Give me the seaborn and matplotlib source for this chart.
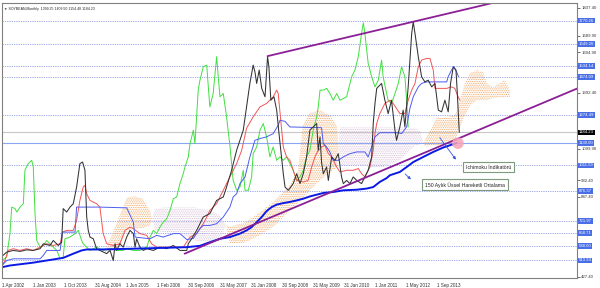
import numpy as np
import pandas as pd
import matplotlib
matplotlib.use("Agg")
import matplotlib.pyplot as plt
import seaborn as sns

# ---------------- data (bar index, price) ----------------
close_bar = [0.5, 2.4, 5.8, 9.3, 12.7, 16.1, 19.6, 21.3, 24.7, 26.4,
             29.0, 30.7, 31.5, 33.3, 35.0, 36.7, 38.4, 40.1, 41.5, 42.7,
             43.6, 44.4, 45.3, 47.0, 48.7, 50.4, 53.9, 55.6, 57.3, 58.2,
             59.0, 60.7, 62.4, 64.2, 65.9, 67.6, 68.5, 69.3, 71.0, 72.7,
             74.5, 77.9, 81.3, 84.8, 88.2, 91.6, 95.1, 95.9, 97.6, 100.2,
             103.6, 107.0, 110.5, 113.9, 115.6, 118.2, 120.8, 122.5, 124.2, 125.9,
             127.6, 129.3, 130.2, 131.1, 132.4, 133.7, 135.4, 136.7, 137.4, 138.4,
             140.0, 141.4, 142.6, 144.8, 145.7, 147.4, 149.9, 151.7, 153.4, 155.1,
             156.8, 158.5, 160.2, 162.0, 162.8, 163.7, 164.5, 165.4, 167.1, 168.0,
             169.7, 171.4, 173.1, 174.8, 175.7, 177.4, 179.1, 180.8, 182.6, 185.1,
             186.8, 188.5, 190.3, 191.1, 192.0, 192.9, 195.4, 197.1, 198.8, 200.5,
             202.3, 203.1, 204.8, 206.5, 207.4, 209.1, 210.9, 211.7, 212.6, 214.3,
             216.0, 217.7, 219.4, 221.2, 222.9, 224.6, 226.3, 228.0, 229.7, 230.9,
             232.3, 233.7, 234.3, 235.0, 235.4]
close_val = [540, 557, 566, 561, 569, 566, 575, 601, 592, 618,
             592, 609, 785, 767, 793, 811, 898, 1021, 1029, 986,
             741, 671, 636, 627, 575, 566, 549, 566, 513, 601,
             566, 601, 583, 636, 671, 654, 583, 627, 583, 566,
             575, 566, 583, 575, 592, 566, 566, 601, 627, 671,
             741, 759, 828, 846, 898, 986, 1091, 1143, 1196, 1318,
             1441, 1537, 1502, 1441, 1511, 1415, 1371, 1581, 1528, 1353,
             1371, 1301, 1178, 968, 898, 881, 916, 968, 916, 968,
             1056, 1196, 1213, 1231, 1091, 1161, 1029, 968, 1003, 933,
             1056, 1038, 1073, 951, 916, 933, 916, 951, 933, 916,
             951, 986, 1056, 1231, 1336, 1415, 1441, 1353, 1283, 1353,
             1196, 1143, 1213, 1301, 1213, 1423, 1703, 1764, 1703, 1581,
             1476, 1449, 1458, 1423, 1441, 1301, 1292, 1353, 1292, 1441,
             1528, 1511, 1406, 1266, 1184.23]

chikou_bar = [0.0, 2.4, 4.1, 5.0, 6.7, 7.6, 9.3, 11.0, 11.8, 13.5,
              15.3, 16.1, 17.0, 17.9, 19.6, 21.3, 23.0, 24.7, 26.4, 28.2,
              29.9, 31.5, 32.4, 35.0, 37.6, 39.3, 41.0, 41.8, 43.6, 45.3,
              48.7, 52.1, 55.6, 59.0, 62.4, 64.2, 67.6, 71.0, 74.5, 76.2,
              77.9, 79.6, 81.3, 83.0, 84.8, 86.5, 88.2, 89.9, 91.6, 93.3,
              94.2, 95.9, 96.8, 98.5, 99.3, 100.2, 101.0, 101.9, 103.6, 105.4,
              106.2, 107.0, 108.7, 110.5, 111.3, 112.2, 113.9, 115.6, 117.3, 119.0,
              120.8, 122.5, 124.2, 125.1, 126.8, 128.5, 129.3, 131.1, 132.8, 134.5,
              136.2, 137.9, 139.6, 141.4, 143.1, 144.8, 146.5, 148.2, 149.9, 151.7,
              153.4, 155.1, 156.8, 158.5, 160.2, 162.0, 162.8, 163.7, 165.4, 167.1,
              168.8, 170.5, 172.3, 174.0, 177.4, 180.0, 181.7, 183.4, 185.1, 186.0,
              186.8, 188.5, 190.3, 192.0, 193.7, 195.4, 196.2, 198.0, 198.8, 200.5,
              202.3, 204.0, 205.7, 207.4, 208.3, 209.1]
chikou_val = [513, 531, 654, 793, 785, 767, 793, 811, 986, 1021,
              1038, 1003, 759, 618, 583, 592, 618, 601, 583, 566,
              522, 531, 627, 636, 654, 671, 618, 601, 583, 566,
              583, 566, 575, 566, 566, 575, 566, 566, 583, 636,
              671, 654, 688, 714, 732, 776, 837, 846, 916, 968,
              1003, 1056, 1126, 1196, 1126, 1266, 1406, 1458, 1528, 1537,
              1423, 1318, 1388, 1581, 1476, 1371, 1388, 1266, 1117, 933,
              881, 898, 986, 881, 881, 951, 1073, 1108, 1196, 1231,
              1161, 1056, 1108, 1038, 1056, 1038, 1056, 1021, 986, 933,
              951, 986, 1056, 1091, 1196, 1266, 1318, 1406, 1406, 1415,
              1388, 1353, 1388, 1353, 1371, 1476, 1511, 1581, 1703, 1759,
              1703, 1546, 1476, 1423, 1458, 1563, 1476, 1388, 1353, 1336,
              1388, 1441, 1528, 1476, 1353, 1213]

tenkan_bar = [0.0, 1.5, 3.2, 5.8, 9.3, 12.7, 16.1, 19.6, 23.0, 26.4,
              29.9, 31.2, 33.3, 36.7, 38.4, 40.1, 41.8, 42.7, 43.6, 45.3,
              48.7, 50.4, 52.1, 53.9, 57.3, 60.7, 63.3, 65.9, 67.6, 71.0,
              74.5, 77.0, 79.6, 84.8, 89.9, 93.3, 96.8, 100.2, 103.6, 105.4,
              107.0, 110.5, 113.9, 117.3, 120.8, 123.4, 125.9, 129.3, 132.8, 136.2,
              139.6, 141.4, 142.2, 143.1, 144.8, 146.5, 148.2, 149.9, 151.7, 155.1,
              157.6, 159.4, 161.1, 162.8, 164.5, 166.2, 168.0, 169.7, 172.3, 174.0,
              177.4, 180.8, 183.4, 185.1, 186.8, 189.4, 191.1, 192.0, 192.9, 194.5,
              197.1, 199.7, 201.4, 204.8, 207.4, 209.1, 210.9, 212.6, 214.3, 216.0,
              218.6, 220.3, 222.0, 222.9, 228.9, 231.4, 233.1, 234.8, 235.7]
tenkan_val = [487, 513, 566, 575, 566, 575, 566, 583, 601, 592,
              601, 662, 671, 671, 723, 828, 898, 907, 863, 828,
              811, 793, 654, 601, 592, 601, 671, 688, 680, 654,
              645, 601, 583, 583, 583, 583, 636, 654, 706, 741,
              776, 811, 881, 951, 1021, 1091, 1206, 1266, 1318, 1336,
              1371, 1406, 1388, 1290, 1108, 1056, 1038, 986, 933, 924,
              933, 1003, 1056, 1091, 1108, 1117, 1073, 1056, 1003, 977,
              986, 986, 995, 968, 951, 1003, 1091, 1178, 1231, 1283,
              1336, 1353, 1336, 1283, 1283, 1353, 1406, 1441, 1528, 1563,
              1572, 1572, 1511, 1415, 1415, 1423, 1415, 1371, 1353]

kijun_bar = [0.0, 2.4, 5.8, 19.6, 21.3, 23.0, 29.9, 31.2, 37.6, 38.4,
             50.4, 64.2, 67.6, 68.5, 76.2, 79.6, 83.0, 88.2, 91.6, 95.1,
             98.5, 101.9, 103.6, 107.0, 110.5, 113.9, 117.3, 119.0, 120.8, 122.5,
             125.1, 127.6, 130.2, 132.8, 136.2, 139.6, 142.2, 143.1, 145.7, 148.2,
             164.5, 165.4, 167.1, 168.8, 170.5, 173.1, 175.7, 179.1, 182.6, 186.8,
             188.5, 190.3, 192.0, 194.5, 204.0, 205.7, 208.3, 210.0, 211.7, 214.3,
             216.0, 218.6, 228.9, 229.7, 231.4, 232.6, 234.0, 235.0]
kijun_val = [487, 513, 522, 522, 540, 566, 566, 662, 662, 793,
             793, 789, 714, 636, 627, 645, 636, 654, 654, 623,
             629, 681, 697, 697, 706, 741, 793, 846, 863, 916,
             951, 1056, 1143, 1152, 1161, 1178, 1222, 1248, 1242, 1213,
             1209, 1126, 1108, 1082, 1038, 1038, 1056, 1073, 1082, 1082,
             1056, 1108, 1161, 1183, 1183, 1178, 1213, 1311, 1371, 1423,
             1441, 1449, 1449, 1476, 1511, 1528, 1502, 1476]

ema_bar = [0.0, 4.1, 16.1, 31.5, 36.7, 41.0, 43.6, 50.4, 67.6, 77.9,
           84.8, 95.1, 101.9, 107.0, 112.2, 117.3, 122.5, 125.9, 128.5, 131.1,
           133.7, 136.2, 138.8, 141.4, 144.8, 148.2, 151.7, 155.1, 158.5, 162.0,
           165.4, 170.5, 175.7, 182.6, 187.7, 191.1, 194.5, 198.0, 199.7, 204.8,
           208.3, 211.7, 216.9, 222.0, 227.1, 230.6, 234.0]
ema_val = [478, 487, 502, 527, 549, 566, 571, 571, 575, 578,
           580, 583, 590, 609, 627, 636, 654, 671, 688, 714,
           741, 772, 793, 806, 814, 820, 828, 837, 849, 858,
           867, 872, 881, 884, 890, 898, 925, 945, 960, 977,
           1003, 1029, 1056, 1082, 1105, 1117, 1129]

cloud_bar = [53.0, 57.1, 60.7, 64.3, 68.5, 72.1, 76.2, 78.7, 83.9, 91.6,
             99.3, 107.0, 112.2, 115.3, 117.3, 125.1, 132.8, 140.5, 148.2, 152.3,
             154.9, 158.5, 163.7, 168.8, 172.4, 174.0, 184.3, 194.5, 204.8, 212.6,
             215.1, 217.7, 223.9, 229.1, 233.1, 235.7, 238.3, 240.9, 244.4, 247.6,
             249.6, 252.7, 256.3, 258.9, 261.5]
span_a = [566, 660, 750, 844, 849, 839, 776, 671, 660, 655,
          618, 603, 618, 700, 690, 713, 765, 828, 907, 986,
          1222, 1285, 1301, 1274, 1216, 1012, 1012, 996, 1038, 1117,
          1120, 1143, 1264, 1264, 1274, 1353, 1442, 1495, 1511, 1500,
          1442, 1421, 1442, 1458, 1406]
span_b = [555, 566, 592, 671, 681, 681, 697, 786, 791, 791,
          791, 776, 750, 700, 600, 608, 645, 697, 776, 813,
          839, 881, 933, 975, 1000, 1211, 1211, 1211, 1211, 1206,
          1190, 1110, 1117, 1128, 1143, 1211, 1274, 1327, 1353, 1353,
          1353, 1364, 1369, 1369, 1369]

upper_trend_bar = [136.7, 254.0]
upper_trend_val = [1584, 1866]
lower_trend_bar = [94.0, 296.0]
lower_trend_val = [549, 1414]

level_vals = [1770.26, 1649.26, 1534.14, 1474.09, 1274.49, 1011.59,
              876.37, 721.97, 658.71, 588.60, 513.34]
support_val = 1130.00
last_price = 1184.23
axis_ticks = [1837.40, 1689.90, 1604.90, 1392.40, 1099.90, 932.40, 847.40, 427.40]

date_tick_bars = [0, 16, 32, 48, 64, 80, 96, 112, 128, 144, 160, 176, 192, 208, 224]
date_labels = ["1 Apr 2002", "1 Jan 2003", "1 Oct 2003", "31 Aug 2004", "1 Jun 2005",
               "1 Feb 2006", "30 Sep 2006", "31 May 2007", "31 Jan 2008", "30 Sep 2008",
               "31 May 2009", "31 Jan 2010", "1 Jan 2011", "1 May 2012", "1 Sep 2013"]

title_text = "\u25BC SOYBEAN,Monthly  1399.25 1409.50 1154.48 1184.23"
note_ichimoku = "Ichimoku İndikatörü"
note_ema = "150 Aylık Üssel Hareketli Ortalama"
highlight_bar, highlight_val = 234.7, 1128

# ---------------- style ----------------
sns.set_style("white")
plt.rcParams["font.family"] = ["Liberation Sans", "DejaVu Sans"]
plt.rcParams["hatch.linewidth"] = 0.5

fig = plt.figure(figsize=(6, 2.88), dpi=100)
ax = fig.add_axes([2 / 600, 10 / 288, 575 / 600, 275 / 288])
ax.set_xlim(0, 296)
ax.set_ylim(421.5, 1862.4)

# horizontal levels
for v in level_vals:
    ax.axhline(v, color="#8393e8", lw=0.55, ls=(0, (1.6, 1.4)), zorder=1)
ax.axhline(support_val, color="#8aa6f2", lw=0.8, zorder=1)
ax.axhline(last_price, color="#c8c8c8", lw=0.8, zorder=1)

# ichimoku cloud
cb = np.array(cloud_bar, float)
sa = np.array(span_a, float)
sbb = np.array(span_b, float)
ax.fill_between(cb, sa, sbb, where=sa >= sbb, interpolate=True, facecolor="none",
                edgecolor="#F2A35E", hatch="." * 9, linewidth=0, zorder=1.5)
ax.fill_between(cb, sa, sbb, where=sa < sbb, interpolate=True, facecolor="none",
                edgecolor="#D6BCD6", hatch="." * 9, linewidth=0, zorder=1.5)

def draw(xs, ys, color, lw, z):
    df = pd.DataFrame({"bar": xs, "price": ys})
    sns.lineplot(data=df, x="bar", y="price", ax=ax, color=color, linewidth=lw,
                 sort=False, estimator=None, zorder=z)

draw(chikou_bar, chikou_val, "#3fe03f", 0.7, 2)
draw(tenkan_bar, tenkan_val, "#f25555", 0.7, 2.1)
draw(kijun_bar, kijun_val, "#4b5cf0", 0.7, 2.2)
draw(close_bar, close_val, "#333333", 0.75, 2.3)
draw(ema_bar, ema_val, "#0a1ae6", 1.4, 2.4)
draw(upper_trend_bar, upper_trend_val, "#8b1f96", 1.3, 2.5)
draw(lower_trend_bar, lower_trend_val, "#8b1f96", 1.3, 2.5)

# highlight circle
ax.scatter([highlight_bar], [highlight_val], s=70, color="#f6a3b6", alpha=0.85,
           edgecolors="none", zorder=2.6)

# annotations
ax.annotate("", xy=(234.5, 1030), xytext=(224.5, 1169),
            arrowprops=dict(arrowstyle="-|>", color="#3552e6", lw=0.6, mutation_scale=4),
            zorder=3)
ax.annotate("", xy=(211.5, 928), xytext=(206.5, 977),
            arrowprops=dict(arrowstyle="-|>", color="#3552e6", lw=0.6, mutation_scale=4),
            zorder=3)
box = dict(boxstyle="square,pad=0.55", fc="white", ec="#7d9a7d", lw=0.8)
ax.text(250.6, 1003, note_ichimoku, fontsize=3.7, ha="center", va="center",
        color="#222222", bbox=box, zorder=4)
ax.text(238.3, 910, note_ema, fontsize=3.7, ha="center", va="center",
        color="#222222", bbox=box, zorder=4)

# title
ax.text(0.004, 0.984, title_text, transform=ax.transAxes, fontsize=2.5,
        ha="left", va="top", color="#222222")

# axes / ticks
ax.set_xlabel("")
ax.set_ylabel("")
ax.yaxis.tick_right()
ax.set_yticks(axis_ticks)
ax.set_yticklabels([f"{v:.2f}" for v in axis_ticks])
ax.tick_params(axis="y", length=2, width=0.5, pad=1, labelsize=3.1, colors="#333333")
ax.set_xticks(date_tick_bars)
ax.set_xticklabels(date_labels)
ax.tick_params(axis="x", length=2.5, width=0.5, pad=1.2, labelsize=3.3, colors="#333333")
for lab in ax.get_xticklabels():
    lab.set_horizontalalignment("left")
for s in ax.spines.values():
    s.set_color("#808080")
    s.set_linewidth(0.8)

ytr = ax.get_yaxis_transform()
for v in level_vals + [support_val]:
    ax.text(1.003, v, f"{v:.2f}", transform=ytr, fontsize=3.1, ha="left", va="center",
            color="white", clip_on=False, zorder=5,
            bbox=dict(boxstyle="square,pad=0.2", fc="#4a6ee6", ec="none"))
ax.text(1.003, last_price, f"{last_price:.2f}", transform=ytr, fontsize=3.1, ha="left",
        va="center", color="white", clip_on=False, zorder=5,
        bbox=dict(boxstyle="square,pad=0.2", fc="black", ec="none"))

fig.savefig("out.png", dpi=100, facecolor="white")
